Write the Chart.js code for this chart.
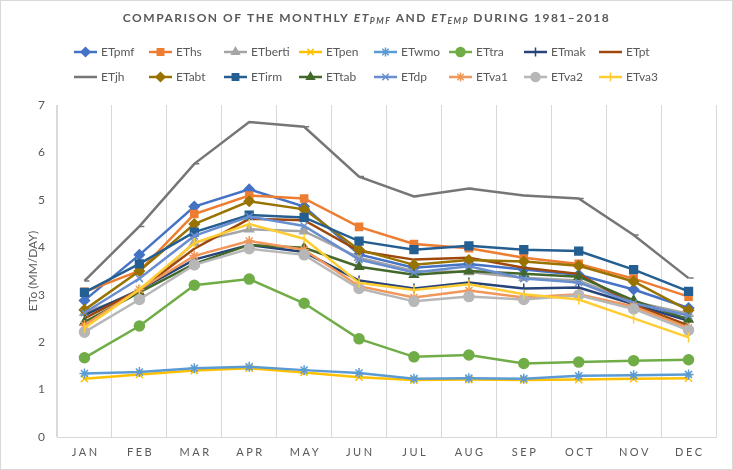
<!DOCTYPE html>
<html>
<head>
<meta charset="utf-8">
<script src="https://cdn.jsdelivr.net/npm/chart.js@4.4.1/dist/chart.umd.min.js"></script>
<style>
  html, body { margin: 0; padding: 0; background: #fff; }
  #wrap { width: 733px; height: 470px; }
</style>
</head>
<body>
<div id="wrap"><canvas id="etChart" width="733" height="470"></canvas></div>
<script>
const months = ['JAN', 'FEB', 'MAR', 'APR', 'MAY', 'JUN', 'JUL', 'AUG', 'SEP', 'OCT', 'NOV', 'DEC'];
const yTicks = [0, 1, 2, 3, 4, 5, 6, 7];

const ETpmf   = [2.88, 3.84, 4.86, 5.22, 4.86, 3.85, 3.57, 3.65, 3.53, 3.42, 3.11, 2.72];
const EThs    = [3.06, 3.50, 4.70, 5.09, 5.03, 4.43, 4.07, 3.98, 3.78, 3.65, 3.34, 2.96];
const ETberti = [2.62, 3.05, 4.10, 4.38, 4.34, 3.78, 3.50, 3.48, 3.36, 3.30, 2.85, 2.60];
const ETpen   = [1.23, 1.32, 1.40, 1.45, 1.36, 1.26, 1.20, 1.21, 1.20, 1.21, 1.23, 1.24];
const ETwmo   = [1.34, 1.37, 1.45, 1.48, 1.41, 1.35, 1.23, 1.24, 1.23, 1.29, 1.30, 1.32];
const ETtra   = [1.67, 2.34, 3.20, 3.33, 2.82, 2.07, 1.69, 1.73, 1.55, 1.58, 1.61, 1.63];
const ETmak   = [2.57, 3.10, 3.74, 4.05, 3.90, 3.30, 3.13, 3.26, 3.13, 3.15, 2.80, 2.45];
const ETpt    = [2.50, 3.10, 3.97, 4.60, 4.57, 3.92, 3.74, 3.78, 3.57, 3.44, 2.79, 2.35];
const ETjh    = [3.29, 4.44, 5.76, 6.64, 6.54, 5.49, 5.07, 5.24, 5.09, 5.03, 4.26, 3.35];
const ETabt   = [2.68, 3.50, 4.49, 4.97, 4.80, 3.95, 3.63, 3.73, 3.70, 3.61, 3.28, 2.67];
const ETirm   = [3.05, 3.65, 4.32, 4.68, 4.63, 4.13, 3.95, 4.03, 3.95, 3.92, 3.53, 3.07];
const ETtab   = [2.42, 3.05, 3.65, 4.05, 3.99, 3.59, 3.42, 3.50, 3.44, 3.38, 2.88, 2.48];
const ETdp    = [2.62, 3.34, 4.24, 4.65, 4.45, 3.74, 3.47, 3.60, 3.34, 3.26, 2.82, 2.56];
const ETva1   = [2.36, 3.11, 3.82, 4.13, 3.95, 3.18, 2.94, 3.09, 2.94, 3.01, 2.75, 2.30];
const ETva2   = [2.21, 2.90, 3.63, 3.97, 3.84, 3.13, 2.86, 2.96, 2.90, 2.99, 2.70, 2.25];
const ETva3   = [2.30, 3.11, 4.09, 4.49, 4.18, 3.25, 3.10, 3.22, 3.01, 2.90, 2.50, 2.10];

// name, values, colour, marker, marker radius, rotation
const series = [
  ['ETpmf', ETpmf, '#4472C4', 'rectRot', 5, 0],
  ['EThs', EThs, '#ED7D31', 'rect', 5, 0],
  ['ETberti', ETberti, '#A5A5A5', 'triangle', 5, 0],
  ['ETpen', ETpen, '#FFC000', 'crossRot', 5, 0],
  ['ETwmo', ETwmo, '#5B9BD5', 'star', 5, 0],
  ['ETtra', ETtra, '#70AD47', 'circle', 5, 0],
  ['ETmak', ETmak, '#264478', 'line', 5, 90],
  ['ETpt', ETpt, '#9E480E', false, 0, 0],
  ['ETjh', ETjh, '#767676', 'dash', 5, 0],
  ['ETabt', ETabt, '#997300', 'rectRot', 5, 0],
  ['ETirm', ETirm, '#255E91', 'rect', 5.5, 0],
  ['ETtab', ETtab, '#43682B', 'triangle', 5, 0],
  ['ETdp', ETdp, '#698ED0', 'crossRot', 5, 0],
  ['ETva1', ETva1, '#F1975A', 'star', 5, 0],
  ['ETva2', ETva2, '#B7B7B7', 'circle', 5, 0],
  ['ETva3', ETva3, '#FFCD33', 'line', 5, 90]
];

const fontFamily = 'Lato, "Liberation Sans", sans-serif';
const textColor = '#595959';

const datasets = series.map((s, i) => ({
  label: s[0],
  data: s[1],
  borderColor: s[2],
  backgroundColor: s[2],
  borderWidth: 2.5,
  pointStyle: s[3],
  pointRadius: s[3] ? s[4] : 0,
  pointRotation: s[5],
  pointBorderWidth: 1.5,
  pointHoverRadius: s[4],
  tension: 0,
  order: series.length - i
}));

// title, legend, month labels and outer frame
const decor = {
  id: 'decor',
  afterDraw(chart) {
    const ctx = chart.ctx;
    ctx.save();
    ctx.strokeStyle = '#d9d9d9';
    ctx.lineWidth = 1;
    ctx.strokeRect(0.5, 0.5, chart.width - 1, chart.height - 1);

    // title with italic subscripts
    const big = 'bold 12px ' + fontFamily;
    const bigIt = 'italic bold 12px ' + fontFamily;
    const sub = 'italic bold 8.5px ' + fontFamily;
    const runs = [
      ['COMPARISON OF THE MONTHLY ', big, 0],
      ['ET', bigIt, 0], ['PMF', sub, 3],
      [' AND ', big, 0],
      ['ET', bigIt, 0], ['EMP', sub, 3],
      [' DURING 1981\u20132018', big, 0]
    ];
    ctx.fillStyle = textColor;
    ctx.textBaseline = 'middle';
    ctx.textAlign = 'left';
    ctx.letterSpacing = '1.5px';
    let total = 0;
    runs.forEach(r => { ctx.font = r[1]; total += ctx.measureText(r[0]).width; });
    let x = chart.width / 2 - total / 2;
    runs.forEach(r => {
      ctx.font = r[1];
      ctx.fillText(r[0], x, 18 + r[2]);
      x += ctx.measureText(r[0]).width;
    });

    // legend: 2 rows of 8
    ctx.letterSpacing = '0px';
    ctx.font = '12px ' + fontFamily;
    series.forEach((s, i) => {
      const col = i % 8, row = Math.floor(i / 8);
      const lx = 74 + col * 75, ly = 52 + row * 25;
      ctx.strokeStyle = s[2];
      ctx.lineWidth = 2.5;
      ctx.beginPath();
      ctx.moveTo(lx, ly);
      ctx.lineTo(lx + 23, ly);
      ctx.stroke();
      if (s[3]) {
        ctx.fillStyle = s[2];
        ctx.lineWidth = 1.5;
        Chart.helpers.drawPoint(ctx, { pointStyle: s[3], radius: 4.5, rotation: s[5], borderWidth: 1.5 }, lx + 11.5, ly);
      }
      ctx.fillStyle = textColor;
      ctx.fillText(s[0], lx + 27, ly);
    });

    // month labels (spaced caps)
    const xs = chart.scales.x;
    ctx.font = '11px ' + fontFamily;
    ctx.letterSpacing = '2.5px';
    ctx.textAlign = 'center';
    months.forEach((m, i) => {
      ctx.fillText(m, xs.getPixelForValue(i) + 1.25, 452);
    });
    ctx.restore();
  }
};

new Chart(document.getElementById('etChart'), {
  type: 'line',
  data: { labels: months, datasets: datasets },
  options: {
    responsive: false,
    animation: false,
    layout: { padding: { top: 105, right: 17, bottom: 0, left: 0 } },
    plugins: {
      legend: { display: false },
      title: { display: false },
      tooltip: { enabled: false }
    },
    scales: {
      x: {
        type: 'category',
        offset: true,
        grid: { display: true, offset: true, color: '#d9d9d9', drawTicks: false },
        border: { color: '#d9d9d9' },
        ticks: { display: false },
        afterFit: s => { s.height = 33; }
      },
      y: {
        min: yTicks[0],
        max: yTicks[yTicks.length - 1],
        afterBuildTicks: s => { s.ticks = yTicks.map(v => ({ value: v })); },
        grid: { display: true, drawOnChartArea: false, drawTicks: false },
        border: { color: '#d9d9d9' },
        ticks: { color: textColor, font: { family: fontFamily, size: 12 }, padding: 12 },
        title: {
          display: true,
          text: 'ETo (MM/DAY)',
          color: textColor,
          font: { family: fontFamily, size: 12 },
          padding: { top: 26, bottom: 0 }
        },
        afterFit: s => { s.width = 57; }
      }
    }
  },
  plugins: [decor]
});
</script>
</body>
</html>
